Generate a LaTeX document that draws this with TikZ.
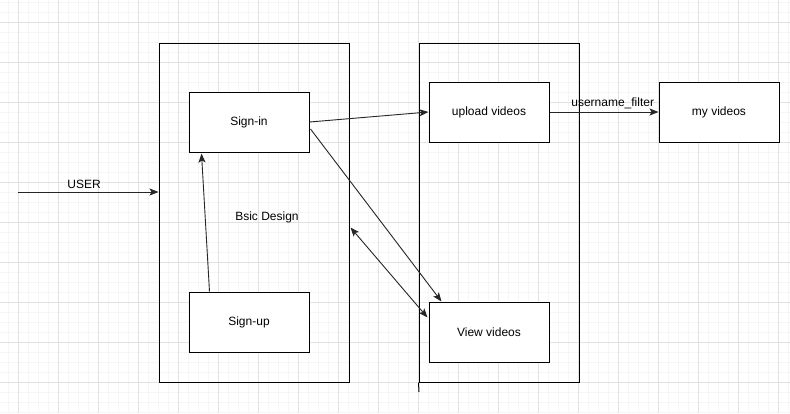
\documentclass[tikz,border=0pt]{standalone}
\usepackage{fontspec}
\setmainfont{Liberation Sans}
\usetikzlibrary{arrows.meta,calc}
\definecolor{gridmajor}{HTML}{E2E2E2}
\definecolor{gridminor}{HTML}{F6F6F6}
\tikzset{
  box/.style={draw=black, line width=1pt, fill=white, rectangle, inner sep=0pt, font=\fontsize{12}{14}\selectfont},
  container/.style={draw=black, line width=1pt, rectangle, inner sep=0pt, font=\fontsize{12}{14}\selectfont},
  arr/.style={draw=black!85, line width=0.9pt, -{Stealth[length=9pt,width=7pt,inset=2pt]}},
  darr/.style={draw=black!85, line width=0.9pt, {Stealth[length=9pt,width=7pt,inset=2pt]}-{Stealth[length=9pt,width=7pt,inset=2pt]}},
  lbl/.style={font=\fontsize{12}{14}\selectfont, inner sep=0pt}
}
\begin{document}
\begin{tikzpicture}[x=1pt,y=-1pt]
\useasboundingbox (0,0) rectangle (790,413);
\fill[white] (0,0) rectangle (790,413);
% grid
\foreach \x in {8,18,...,788} \draw[gridminor, line width=0.6pt] (\x,0) -- (\x,413);
\foreach \y in {2,12,...,412} \draw[gridminor, line width=0.6pt] (0,\y) -- (790,\y);
\foreach \x in {18,58,...,778} \draw[gridmajor, line width=0.8pt] (\x,0) -- (\x,413);
\foreach \y in {22,62,...,402} \draw[gridmajor, line width=0.8pt] (0,\y) -- (790,\y);

% containers
\node[container, minimum width=190pt, minimum height=339pt] (outerL) at (254,212.5) {};
\node[container, minimum width=160pt, minimum height=339pt] (outerR) at (499,212.5) {};
\coordinate (tail) at (419,392);
\draw[line width=1pt] (outerR.south west) -- (tail);

% boxes
\node[box, minimum width=120pt, minimum height=60pt] (signin) at (249,122) {Sign-in};
\node[box, minimum width=120pt, minimum height=60pt] (signup) at (249,322) {Sign-up};
\node[box, minimum width=120pt, minimum height=60pt] (upload) at (489,112) {upload videos};
\node[box, minimum width=120pt, minimum height=60pt] (view) at (489,332) {View videos};
\node[box, minimum width=120pt, minimum height=60pt] (myv) at (719,112) {my videos};

\node[lbl] (design) at (267,217) {Bsic Design};

% user arrow
\coordinate (u0) at (18,192);
\draw[arr] (u0) -- (u0 -| outerL.west) node[lbl, pos=0.47, above=3pt] (user) {USER};

% edges
\draw[arr] (signin.east) -- (upload.west);
\draw[arr] ([yshift=-7pt,xshift=1pt]signin.east) -- ([xshift=13pt]view.north west);
\draw[darr] ([yshift=-15pt,xshift=1pt]outerL.east) -- ([yshift=-16pt,xshift=-1pt]view.north west);
\draw[arr] ([xshift=21pt]signup.north west) -- ([xshift=13pt,yshift=-1pt]signin.south west);
\draw[arr] (upload.east) -- (myv.west) node[lbl, pos=0.58, above=3pt] (filt) {username\_filter};
\end{tikzpicture}
\end{document}
